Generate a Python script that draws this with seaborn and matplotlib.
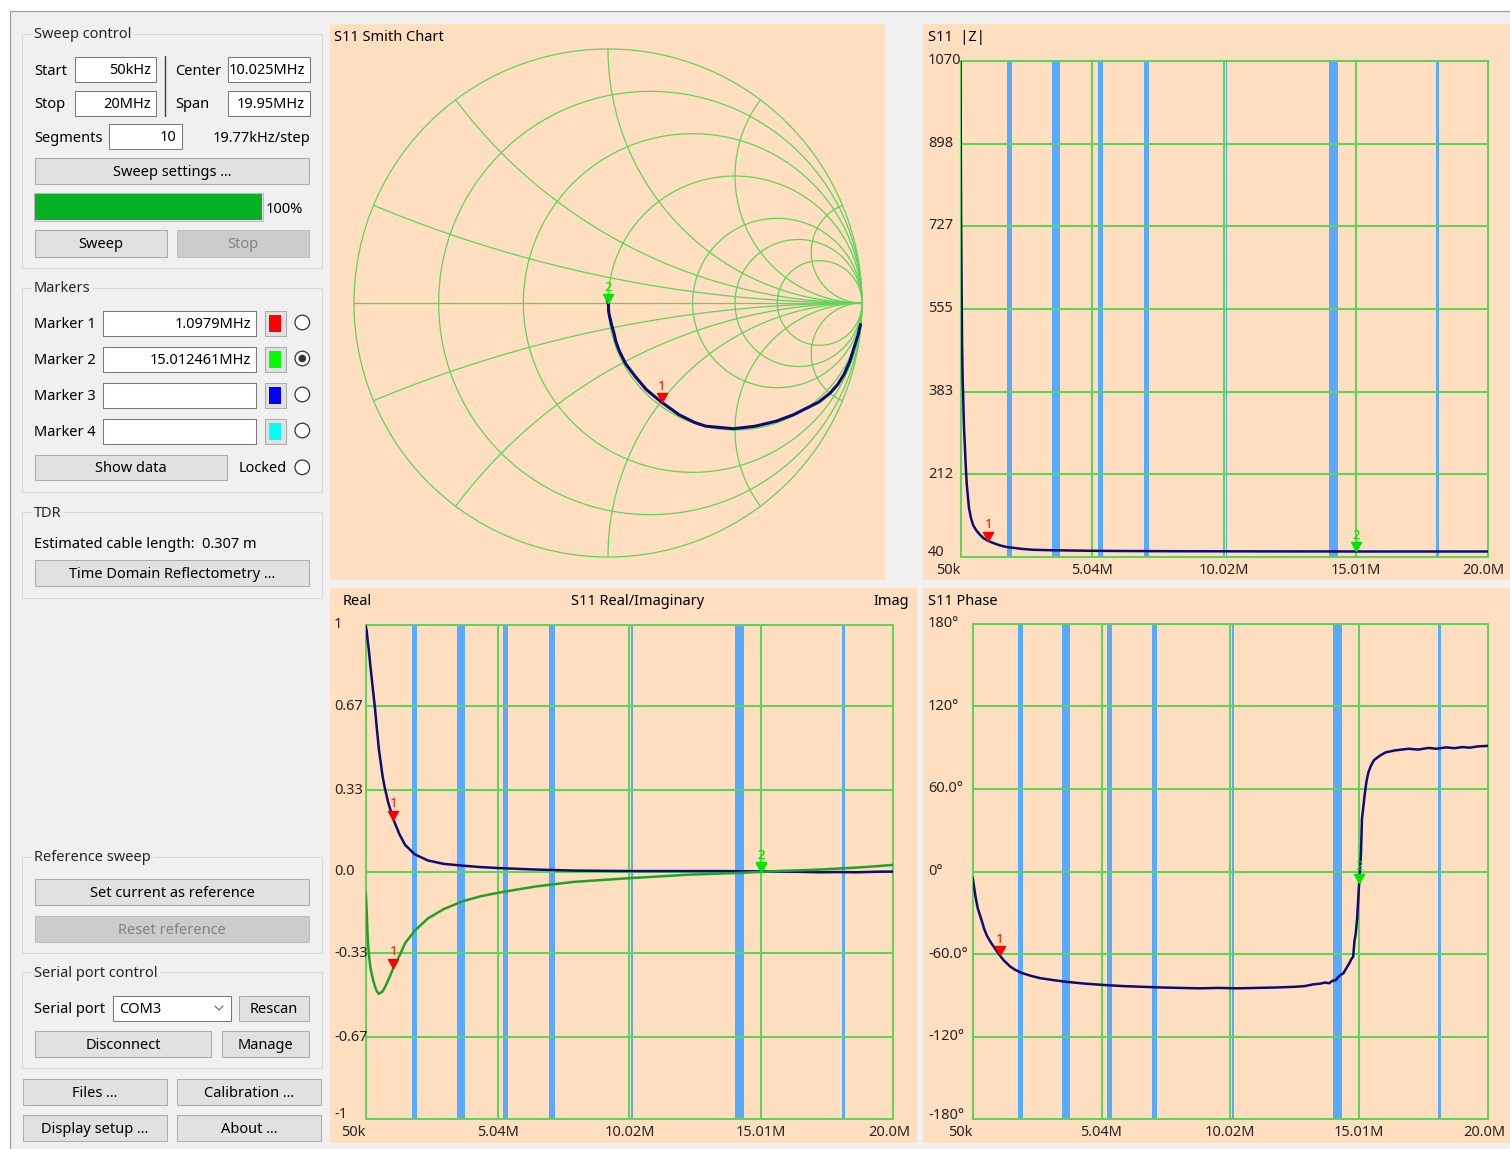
import numpy as np
import matplotlib
matplotlib.use("Agg")
import matplotlib.pyplot as plt
import matplotlib.transforms as mtransforms
from matplotlib.patches import Rectangle, Circle
from matplotlib.path import Path
import seaborn as sns

sns.set_style("white")
plt.rcParams["font.family"] = ["Noto Sans", "DejaVu Sans"]

W, H = 1510, 1149

# ---------------- sweep data (frequency in MHz) ----------------
ri_freq = [0.05, 0.07, 0.09, 0.11, 0.13, 0.16, 0.19, 0.23, 0.27, 0.33, 0.40, 0.47, 0.55,
           0.62, 0.69, 0.77, 0.9, 1.0, 1.1, 1.33, 1.54, 1.9, 2.4, 3.0, 3.7, 4.4,
           5.1, 6.5, 7.9, 10.0, 12.2, 13.5, 14.3, 15.0, 15.6, 16.5, 17.2, 17.9,
           18.6, 19.3, 20.0]
s11_real = [0.994, 0.985, 0.972, 0.952, 0.93, 0.905, 0.874, 0.83, 0.79, 0.73, 0.663, 0.58, 0.494,
            0.44, 0.385, 0.34, 0.28, 0.245, 0.21, 0.15, 0.108, 0.07, 0.045, 0.031, 0.024, 0.018,
            0.014, 0.008, 0.004, 0.002, 0.002, 0.002, 0.001, 0.001, 0.0, -0.001, -0.003, -0.002,
            -0.003, -0.001, 0.0]
s11_imag = [-0.085, -0.125, -0.165, -0.23, -0.28, -0.32, -0.355, -0.39, -0.41, -0.44, -0.465, -0.485, -0.495,
            -0.49, -0.485, -0.47, -0.44, -0.415, -0.39, -0.34, -0.29, -0.24, -0.19, -0.152, -0.121, -0.1,
            -0.085, -0.06, -0.042, -0.027, -0.013, -0.008, -0.005, -0.001, 0.002, 0.005, 0.008, 0.012,
            0.016, 0.021, 0.027]

z_freq = [0.05, 0.07, 0.09, 0.11, 0.13, 0.15, 0.17, 0.19, 0.21, 0.23, 0.25, 0.29, 0.37,
          0.45, 0.53, 0.65, 0.79, 0.9, 1.04, 1.2, 1.34, 1.55, 1.77, 2.05, 2.34, 2.78,
          3.5, 4.2, 4.86, 6.0, 8.0, 10.0, 12.0, 14.0, 16.0, 18.0, 20.0]
z_mag = [1070, 760, 608, 480, 411, 376, 330, 299, 277, 252, 227, 189, 142,
         120, 106, 95, 86, 80, 75, 71, 68, 64, 61, 59, 57, 55,
         54, 53.5, 53, 52.5, 52, 51.8, 51.6, 51.5, 51.4, 51.4, 51.4]

ph_freq = [0.05, 0.1, 0.166, 0.25, 0.387, 0.5, 0.6, 0.75, 0.9, 1.08, 1.25, 1.49, 1.7,
           1.93, 2.3, 2.66, 3.2, 3.69, 4.4, 5.16, 5.9, 6.63, 7.4, 8.1, 8.8, 9.57, 10.3,
           11.04, 11.8, 12.51, 12.9, 13.24, 13.5, 13.69, 13.85, 13.98, 14.1, 14.27, 14.4,
           14.56, 14.65, 14.71, 14.78, 14.83, 14.88, 14.93, 14.97, 15.0, 15.04, 15.08,
           15.12, 15.18, 15.23, 15.3, 15.37, 15.47, 15.59, 15.8, 16.04, 16.4, 16.92,
           17.3, 17.7, 18.0, 18.38, 18.7, 19.0, 19.3, 19.6, 20.0]
ph_deg = [-4.6, -11, -19, -27, -35, -42, -46.7, -51.5, -55.6, -60.5, -64.5, -68.9, -71.5,
          -73.6, -75.8, -77.5, -79, -80.2, -81.5, -82.5, -83.3, -83.8, -84.3, -84.6, -84.9, -84.6, -84.9,
          -84.6, -84.3, -83.8, -83.3, -82, -81.5, -80.7, -81.2, -79.4, -79, -75.4, -74,
          -68.9, -66, -63.6, -62, -50.5, -45, -34.9, -22, -12, 0, 12,
          38, 48, 56.6, 66, 72, 77, 81, 84, 86.6, 88, 89.2,
          88.6, 89.8, 89.2, 90.2, 89.6, 90.4, 90.0, 90.9, 91.3]

# amateur bands shaded on the frequency charts (MHz)
band_start = [1.8, 3.5, 5.25, 7.0, 10.1, 14.0, 18.068]
band_stop = [2.0, 3.8, 5.45, 7.2, 10.15, 14.35, 18.168]

marker_freqs = [1.0979, 15.012461]
marker_names = ["1", "2"]
marker_colors = ["#ff0000", "#00e600"]

freq_ticks = [0.05, 5.0375, 10.025, 15.0125, 20.0]
freq_labels = ["50k", "5.04M", "10.02M", "15.01M", "20.0M"]
z_ticks = [40, 212, 383, 555, 727, 898, 1070]
z_labels = ["40", "212", "383", "555", "727", "898", "1070"]
ri_ticks = [-1, -0.67, -0.33, 0, 0.33, 0.67, 1]
ri_labels = ["-1", "-0.67", "-0.33", "0.0", "0.33", "0.67", "1"]
ph_ticks = [-180, -120, -60, 0, 60, 120, 180]
ph_labels = ["-180°", "-120°", "-60.0°", "0°", "60.0°", "120°", "180°"]

smith_r = [0.2, 0.5, 1, 2, 3, 5]
smith_x = [0.2, 0.5, 1, 2, 5]

# ---------------- colours ----------------
WIN = "#f0f0f0"
PEACH = "#ffdfbf"
GRID = "#5fd35a"
BAND = "#58aaff"
TRACE = "#0c0c72"
IMAG = "#22a02a"
BTN = "#e1e1e1"
BTN_EDGE = "#adadad"
FS = 10.5

fig = plt.figure(figsize=(W / 100, H / 100), dpi=100)
fig.patch.set_facecolor("white")
bg = fig.add_axes([0, 0, 1, 1])
bg.set_xlim(0, W)
bg.set_ylim(H, 0)
bg.axis("off")


def px_axes(x0, y0, x1, y1):
    return fig.add_axes([x0 / W, 1 - y1 / H, (x1 - x0) / W, (y1 - y0) / H])


def box(x0, y0, x1, y1, fc, ec="none", lw=0.75, z=1):
    bg.add_patch(Rectangle((x0, y0), x1 - x0, y1 - y0, fc=fc, ec=ec, lw=lw, zorder=z))


def label(x, y, s, ha="left", color="black", size=FS, **kw):
    bg.text(x, y + 1.2, s, ha=ha, va="center", color=color, fontsize=size, zorder=5, **kw)


def button(x0, y0, x1, y1, s, enabled=True):
    box(x0, y0, x1, y1, BTN if enabled else "#cccccc", BTN_EDGE if enabled else "#bfbfbf")
    label((x0 + x1) / 2, (y0 + y1) / 2, s, ha="center", color="black" if enabled else "#838383")


def field(x0, y0, x1, y1, s="", ha="right"):
    box(x0, y0, x1, y1, "white", "#7a7a7a")
    if s:
        label(x1 - 5 if ha == "right" else x0 + 6, (y0 + y1) / 2, s, ha=ha)


def group(x0, y0, x1, y1, title):
    box(x0, y0, x1, y1, "none", "#d9d9d9", z=0.5)
    bg.text(x0 + 11.5, y0 + 1, title, ha="left", va="center", fontsize=FS, zorder=5,
            bbox=dict(boxstyle="square,pad=0.15", fc=WIN, ec="none"))


def radio(cx, cy, checked=False):
    bg.add_patch(Circle((cx, cy), 7.3, fc="white", ec="#333333", lw=0.9, zorder=3))
    if checked:
        bg.add_patch(Circle((cx, cy), 3.8, fc="#333333", ec="none", zorder=4))


# window
box(10, 11, W + 20, H + 20, WIN, "#a0a0a0", lw=0.9, z=0)

# ---------------- sweep control ----------------
group(22.3, 34, 321.7, 267.7, "Sweep control")
label(34, 70, "Start")
field(75, 56.5, 156, 81.5, "50kHz")
label(34, 103, "Stop")
field(75, 90.5, 156, 115.5, "20MHz")
bg.plot([165, 165], [56, 116], color="#3c3c3c", lw=1.0, zorder=2)
label(175, 70, "Center")
field(227.5, 56.5, 310, 81.5, "10.025MHz")
label(175, 103, "Span")
field(227.5, 90.5, 310, 115.5, "19.95MHz")
label(34, 137, "Segments")
field(109, 124, 181.5, 149, "10")
label(310, 137, "19.77kHz/step", ha="right")
button(35, 158, 309, 184, "Sweep settings ...")
box(34, 193, 263, 221, "#e6e6e6", "#bcbcbc")
box(35, 194, 262, 220, "#06b025")
label(266, 208.5, "100%")
button(35, 230, 166.5, 256.5, "Sweep")
button(176.5, 230, 309, 256.5, "Stop", enabled=False)

# ---------------- markers ----------------
group(22.3, 287.7, 321.7, 491.7, "Markers")
marker_rows = [("Marker 1", "1.0979MHz", "#ff0000", False),
               ("Marker 2", "15.012461MHz", "#00ff00", True),
               ("Marker 3", "", "#0000ff", False),
               ("Marker 4", "", "#00ffff", False)]
for i, (name, val, col, sel) in enumerate(marker_rows):
    cy = 323 + 36 * i
    label(34, cy, name)
    field(102.7, cy - 12.5, 256, cy + 12.5, val)
    box(265, cy - 12.5, 286, cy + 12.5, BTN, BTN_EDGE)
    box(269.3, cy - 8.5, 280.7, cy + 8.5, col)
    radio(302.3, cy - 0.5, sel)
button(35, 455, 227, 480, "Show data")
label(287, 467.5, "Locked", ha="right")
radio(302.3, 467.3)

# ---------------- TDR ----------------
group(22.3, 512.3, 321.7, 597.7, "TDR")
label(34, 543.3, "Estimated cable length:  0.307 m")
button(35, 560, 309, 586, "Time Domain Reflectometry ...")

# ---------------- reference sweep ----------------
group(22.3, 856.7, 321.7, 953.3, "Reference sweep")
button(35, 879.3, 309, 905, "Set current as reference")
button(35, 916, 309, 941.7, "Reset reference", enabled=False)

# ---------------- serial port ----------------
group(22.3, 972.3, 321.7, 1068.3, "Serial port control")
label(34, 1008.3, "Serial port")
field(113.3, 995.5, 230.7, 1020.7, "COM3", ha="left")
bg.plot([215, 219, 223], [1006, 1010, 1006], color="#606060", lw=0.8, zorder=4)
button(239.3, 995.5, 309, 1020.7, "Rescan")
button(35, 1031, 211.3, 1056.7, "Disconnect")
button(221.7, 1031, 309, 1056.7, "Manage")

button(23.3, 1079.3, 166.7, 1105, "Files ...")
button(177.3, 1079.3, 320.7, 1105, "Calibration ...")
button(23.3, 1115.3, 166.7, 1141, "Display setup ...")
button(177.3, 1115.3, 320.7, 1141, "About ...")

# ---------------- chart panels ----------------
box(330, 24, 885, 580, PEACH, z=0.2)
box(923, 24, W, 580, PEACH, z=0.2)
box(330, 588, 917, 1143, PEACH, z=0.2)
box(923, 588, W, 1143, PEACH, z=0.2)

label(334, 36, "S11 Smith Chart")
label(928, 36, "S11  |Z|")
label(343, 600, "Real")
label(637.5, 600, "S11 Real/Imaginary", ha="center")
label(909, 600, "Imag", ha="right")
label(928, 600, "S11 Phase")

tip = Path([(-0.56, 1.0), (0.56, 1.0), (0.0, 0.0), (-0.56, 1.0)],
           [Path.MOVETO, Path.LINETO, Path.LINETO, Path.CLOSEPOLY])


def draw_marker(ax, x, y, color, name):
    ax.plot([x], [y], marker=tip, ms=13, color=color, mec=color, ls="none",
            zorder=6, clip_on=False)
    ax.annotate(name, (x, y), xytext=(0, 16), textcoords="offset pixels",
                ha="center", va="center", color=color, fontsize=9.5, zorder=6)


def rect_chart(frame, ylim, yticks, ylabels, lab_x, xlab_y):
    ax = px_axes(*frame)
    ax.set_xlim(0.05, 20)
    ax.set_ylim(*ylim)
    for b0, b1 in zip(band_start, band_stop):
        ax.axvspan(b0, b1, color=BAND, lw=0, zorder=0.5)
    for t in yticks:
        ax.axhline(t, color=GRID, lw=1.5, zorder=1, clip_on=False)
    for t in freq_ticks:
        ax.axvline(t, color=GRID, lw=1.5, zorder=1, clip_on=False)
    ytr = mtransforms.blended_transform_factory(bg.transData, ax.transData)
    for i, (t, s) in enumerate(zip(yticks, ylabels)):
        up = 4 if i == 0 else 0
        ax.text(lab_x, t, s, ha="left", va="center", fontsize=FS,
                transform=mtransforms.offset_copy(ytr, fig=fig, y=up, units="dots"))
    xtr = mtransforms.blended_transform_factory(ax.transData, bg.transData)
    for i, (t, s) in enumerate(zip(freq_ticks, freq_labels)):
        if i == 0:
            ax.text(t, xlab_y, s, ha="right", va="center", fontsize=FS, transform=xtr)
        else:
            dx = -4 if i == len(freq_ticks) - 1 else 0
            ax.text(t, xlab_y, s, ha="center", va="center", fontsize=FS,
                    transform=mtransforms.offset_copy(xtr, fig=fig, x=dx, units="dots"))
    return ax


# |Z|
axz = rect_chart((960.5, 60.7, 1487.5, 557), (40, 1070), z_ticks, z_labels, 928, 570)
sns.lineplot(x=z_freq, y=z_mag, ax=axz, color=TRACE, lw=1.8, estimator=None,
             legend=False, zorder=3)
for mf, nm, mc in zip(marker_freqs, marker_names, marker_colors):
    draw_marker(axz, mf, np.interp(mf, z_freq, z_mag), mc, nm)
axz.set_xlim(0.05, 20)
axz.set_ylim(40, 1070)
axz.axis("off")

# Real / Imag
axri = rect_chart((365.7, 624.6, 893.2, 1118.5), (-1, 1), ri_ticks, ri_labels, 334, 1132.5)
sns.lineplot(x=ri_freq, y=s11_real, ax=axri, color=TRACE, lw=1.8, estimator=None,
             legend=False, zorder=3)
sns.lineplot(x=ri_freq, y=s11_imag, ax=axri, color=IMAG, lw=1.8, estimator=None,
             legend=False, zorder=3)
for mf, nm, mc in zip(marker_freqs, marker_names, marker_colors):
    draw_marker(axri, mf, np.interp(mf, ri_freq, s11_real), mc, nm)
    draw_marker(axri, mf, np.interp(mf, ri_freq, s11_imag), mc, nm)
axri.set_xlim(0.05, 20)
axri.set_ylim(-1, 1)
axri.axis("off")

# Phase
axph = rect_chart((972.7, 623.8, 1488, 1119.2), (-180, 180), ph_ticks, ph_labels, 928, 1132.5)
sns.lineplot(x=ph_freq, y=ph_deg, ax=axph, color=TRACE, lw=1.8, estimator=None,
             legend=False, zorder=3)
for mf, nm, mc in zip(marker_freqs, marker_names, marker_colors):
    draw_marker(axph, mf, np.interp(mf, ph_freq, ph_deg), mc, nm)
axph.set_xlim(0.05, 20)
axph.set_ylim(-180, 180)
axph.axis("off")

# ---------------- Smith chart ----------------
cx, cy, R, half = 608, 303, 254, 270
axs = px_axes(cx - half, cy - half, cx + half, cy + half)
lim = half / R
th = np.linspace(0, 2 * np.pi, 721)
SG = dict(color=GRID, lw=0.9, zorder=1)
axs.plot(np.cos(th), np.sin(th), **SG)
axs.plot([-1, 1], [0, 0], **SG)
for r in smith_r:
    c, rad = r / (1 + r), 1 / (1 + r)
    axs.plot(c + rad * np.cos(th), rad * np.sin(th), **SG)
for x in smith_x:
    c = 1 / x
    px, py = (x * x - 1) / (x * x + 1), 2 * x / (x * x + 1)
    a2 = np.arctan2(py - c, px - 1)
    while a2 > -np.pi / 2:
        a2 -= 2 * np.pi
    while a2 < -3 * np.pi / 2:
        a2 += 2 * np.pi
    t = np.linspace(-np.pi / 2, a2, 240)
    ax_, ay_ = 1 + c * np.cos(t), c + c * np.sin(t)
    axs.plot(ax_, ay_, **SG)
    axs.plot(ax_, -ay_, **SG)
sns.lineplot(x=s11_real, y=s11_imag, ax=axs, sort=False, estimator=None, color=TRACE,
             lw=2.2, legend=False, zorder=3)
for mf, nm, mc in zip(marker_freqs, marker_names, marker_colors):
    draw_marker(axs, np.interp(mf, ri_freq, s11_real), np.interp(mf, ri_freq, s11_imag), mc, nm)
axs.set_xlim(-lim, lim)
axs.set_ylim(-lim, lim)
axs.axis("off")

fig.savefig("out.png", dpi=100, facecolor=fig.get_facecolor())
